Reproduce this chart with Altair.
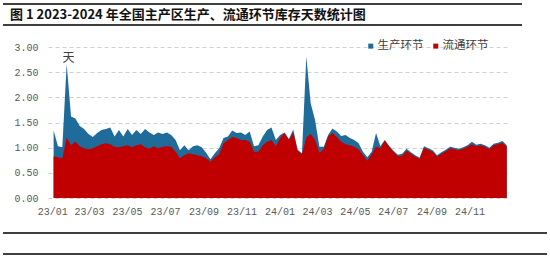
import altair as alt
import pandas as pd

# ---------------- data ----------------
dates = [d.strftime("%Y-%m-%dT00:00:00") for d in pd.date_range("2023-01-03", periods=105, freq="7D")]

production = [
    1.34, 1.03, 1.01, 2.66, 1.62, 1.58, 1.43, 1.37, 1.27, 1.21,
    1.29, 1.35, 1.37, 1.40, 1.22, 1.35, 1.22, 1.37, 1.25, 1.35,
    1.27, 1.37, 1.30, 1.25, 1.30, 1.27, 1.30, 1.25, 1.15, 0.95,
    1.05, 0.95, 1.03, 1.05, 1.01, 0.90, 0.77, 0.89, 0.99, 1.19,
    1.22, 1.34, 1.29, 1.30, 1.25, 1.32, 1.03, 1.05, 1.22, 1.35,
    1.40, 1.15, 1.25, 1.30, 1.17, 1.36, 0.96, 0.89, 2.81, 1.88,
    1.55, 1.02, 1.02, 1.25, 1.38, 1.32, 1.23, 1.25, 1.19, 1.15,
    1.09, 0.92, 0.81, 0.92, 1.29, 1.03, 1.15, 1.04, 0.94, 0.86,
    0.88, 0.98, 0.91, 0.85, 0.80, 1.03, 0.99, 0.95, 0.85, 0.91,
    0.96, 1.02, 1.00, 0.98, 1.01, 1.05, 1.12, 1.06, 1.08, 1.05,
    1.00, 1.08, 1.10, 1.13, 1.05,
]

circulation = [
    0.83, 0.81, 0.79, 1.20, 1.05, 1.12, 1.03, 0.99, 0.97, 0.99,
    1.03, 1.07, 1.09, 1.07, 1.02, 1.01, 1.03, 1.05, 1.01, 1.05,
    1.07, 1.01, 0.98, 1.03, 0.99, 1.02, 1.03, 1.02, 0.92, 0.79,
    0.85, 0.89, 0.87, 0.85, 0.83, 0.79, 0.72, 0.81, 0.87, 1.09,
    1.15, 1.21, 1.19, 1.15, 1.15, 1.12, 0.92, 0.92, 1.05, 1.12,
    1.15, 1.03, 1.19, 1.29, 1.15, 1.30, 0.94, 0.87, 1.20, 1.27,
    1.15, 0.90, 0.97, 1.22, 1.29, 1.21, 1.12, 1.07, 1.05, 1.02,
    0.97, 0.85, 0.74, 0.87, 1.02, 0.99, 1.14, 1.02, 0.92, 0.83,
    0.84, 0.94, 0.88, 0.82, 0.78, 1.00, 0.96, 0.92, 0.82, 0.88,
    0.93, 0.99, 0.97, 0.95, 0.98, 1.02, 1.07, 1.03, 1.05, 1.02,
    0.97, 1.05, 1.07, 1.10, 1.02,
]

series_names = ["生产环节", "流通环节"]
series_colors = ["#1F6B9A", "#C00000"]
y_ticks = [0, 0.5, 1.0, 1.5, 2.0, 2.5, 3.0]
x_tick_months = [(2023, 1), (2023, 3), (2023, 5), (2023, 7), (2023, 9), (2023, 11),
                 (2024, 1), (2024, 3), (2024, 5), (2024, 7), (2024, 9), (2024, 11)]
title_text = "图 1 2023-2024 年全国主产区生产、流通环节库存天数统计图"
unit_text = "天"

# ---------------- chart ----------------
W, H = 460, 151
LEFT, TOP = 48, 47

df_p = pd.DataFrame({"date": dates, "value": production, "series": series_names[0]})
df_c = pd.DataFrame({"date": dates, "value": circulation, "series": series_names[1]})

x_enc = alt.X(
    "date:T",
    title=None,
    scale=alt.Scale(domain=[alt.DateTime(year=2022, month=12, date=25),
                            alt.DateTime(year=2025, month=1, date=2)]),
    axis=alt.Axis(
        values=[alt.DateTime(year=y, month=m, date=1) for y, m in x_tick_months],
        format="%y/%m", labelFont="Liberation Mono", labelFontSize=10,
        labelColor="#595959", domain=False, ticks=False, grid=False,
        labelPadding=8, labelBaseline="top", labelOverlap=False,
    ),
)
y_enc = alt.Y(
    "value:Q",
    scale=alt.Scale(domain=[0, 3], nice=False, zero=True),
    axis=alt.Axis(
        values=y_ticks, format=".2f", labelFont="Liberation Mono", labelFontSize=10,
        labelColor="#595959", domain=False, ticks=False, labelPadding=10,
        grid=True, gridColor="#D0D0D0", gridDash=[4, 3], gridWidth=1,
        title=unit_text, titleAngle=0, titleX=20, titleY=10, titleAlign="center",
        titleBaseline="middle", titleFont="Noto Sans CJK SC", titleFontSize=12,
        titleFontWeight="normal", titleColor="#404040",
    ),
)
color_enc = alt.Color(
    "series:N",
    scale=alt.Scale(domain=series_names, range=series_colors),
    legend=alt.Legend(
        title=None, orient="none", legendX=317, legendY=-7, direction="horizontal",
        symbolType="square", symbolSize=25, symbolStrokeWidth=0,
        labelFont="Noto Sans CJK SC", labelFontSize=11.5, labelColor="#404040",
        columnPadding=6, labelOffset=1,
    ),
)

area_p = alt.Chart(df_p).mark_area(interpolate="linear", opacity=1).encode(
    x=x_enc, y=y_enc, color=color_enc)
area_c = alt.Chart(df_c).mark_area(interpolate="linear", opacity=1).encode(
    x=x_enc, y=y_enc, color=color_enc)

one = pd.DataFrame({"k": [0]})
top1 = alt.Chart(one).mark_rule(color="black", strokeWidth=1.5).encode(
    x=alt.value(-45), x2=alt.value(474), y=alt.value(4 - TOP))
top2 = alt.Chart(one).mark_rule(color="black", strokeWidth=1.5).encode(
    x=alt.value(-45), x2=alt.value(474), y=alt.value(25 - TOP))
bot1 = alt.Chart(one).mark_rule(color="black", strokeWidth=1.5).encode(
    x=alt.value(-45), x2=alt.value(499), y=alt.value(233 - TOP))
bot2 = alt.Chart(one).mark_rule(color="black", strokeWidth=1.5).encode(
    x=alt.value(-45), x2=alt.value(499), y=alt.value(254 - TOP))
title = alt.Chart(one).mark_text(
    align="left", baseline="middle", font="Noto Sans CJK SC", fontSize=13,
    fontWeight="bold", color="#111111").encode(
    x=alt.value(10 - LEFT), y=alt.value(15 - TOP), text=alt.value(title_text))

chart = alt.layer(area_p, area_c, top1, top2, bot1, bot2, title).properties(
    width=W, height=H,
    autosize=alt.AutoSizeParams(type="none"),
    padding={"left": LEFT, "top": TOP, "right": 550 - LEFT - W, "bottom": 258 - TOP - H},
    background="white",
).configure_view(stroke=None)

chart.save("out.html", embed_options={"renderer": "svg", "actions": False})
